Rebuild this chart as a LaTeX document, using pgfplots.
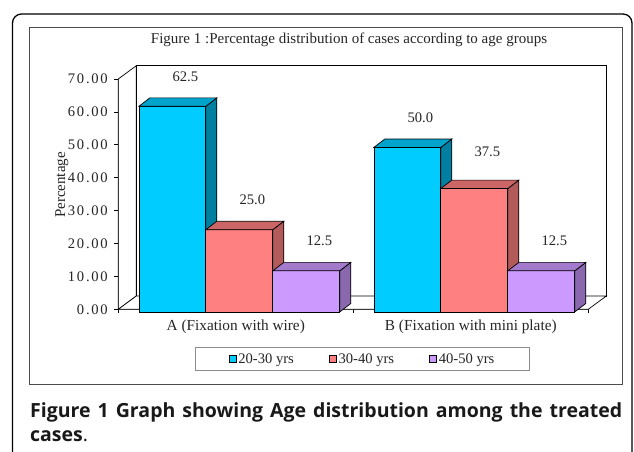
\documentclass[border=0pt]{standalone}
\usepackage{fontspec}
\setmainfont{Liberation Serif}
\newfontfamily\capfont{Open Sans}
\newfontfamily\tickfont[LetterSpace=12]{Liberation Serif}
\usepackage{pgfplots}
\pgfplotsset{compat=1.18}
\definecolor{cyanF}{HTML}{00CCFF}
\definecolor{cyanT}{HTML}{00A3CC}
\definecolor{cyanS}{HTML}{007FA0}
\definecolor{redF}{HTML}{FF8080}
\definecolor{redT}{HTML}{CC6666}
\definecolor{redS}{HTML}{B35A5A}
\definecolor{purF}{HTML}{CC99FF}
\definecolor{purT}{HTML}{A37ACC}
\definecolor{purS}{HTML}{8A68AE}
% bar geometry (axis units)
\def\cbw{0.285}  % bar width
\def\csx{0.015}  % front face depth shift x
\def\csy{-0.79}  % front face depth shift y
\def\cdx{0.0468} % bar depth x
\def\cdy{2.55}   % bar depth y
% #1 category, #2 series index, #3 value, #4 colour prefix, #5 label lift (pt)
\newcommand{\cubebar}[5]{%
  \pgfmathsetmacro{\cxl}{#1+#2*\cbw-\cbw/2+\csx}%
  \pgfmathsetmacro{\cxr}{\cxl+\cbw}%
  \pgfmathsetmacro{\cxc}{\cxl+\cbw/2}%
  \pgfmathsetmacro{\cyb}{\csy}%
  \pgfmathsetmacro{\cyt}{#3+\csy}%
  \pgfmathsetmacro{\cxlb}{\cxl+\cdx}%
  \pgfmathsetmacro{\cxrb}{\cxr+\cdx}%
  \pgfmathsetmacro{\cybb}{\cyb+\cdy}%
  \pgfmathsetmacro{\cytb}{\cyt+\cdy}%
  \addplot[fill=#4F, draw=black, line width=0.7pt, forget plot] coordinates {(\cxl,\cyb) (\cxr,\cyb) (\cxr,\cyt) (\cxl,\cyt)} -- cycle;
  \addplot[fill=#4S, draw=black, line width=0.7pt, forget plot] coordinates {(\cxr,\cyb) (\cxrb,\cybb) (\cxrb,\cytb) (\cxr,\cyt)} -- cycle;
  \addplot[fill=#4T, draw=black, line width=0.7pt, forget plot] coordinates {(\cxl,\cyt) (\cxr,\cyt) (\cxrb,\cytb) (\cxlb,\cytb)} -- cycle;
  \addplot[draw=none, mark=none, forget plot, point meta=explicit,
    nodes near coords={\pgfmathprintnumber[assume math mode=true,fixed,fixed zerofill,precision=1]{\pgfplotspointmeta}},
    nodes near coords style={anchor=center, xshift=13pt, yshift=#5pt, font=\fontsize{14.6}{17}\selectfont, text=black!85}]
    coordinates {(\cxc,\cyt) [#3]};
}
\begin{document}
\begin{tikzpicture}
\begin{scope}[x=1pt,y=1pt,shift={(-118.3pt,-142.7pt)}]
\useasboundingbox (0,0) rectangle (634,452);
\clip (0,0) rectangle (634,452);
\fill[white] (0,0) rectangle (634,452);
\draw[black, line width=1.3pt, rounded corners=9pt] (12.5,-10) -- (12.5,438) -- (632,438) -- (632,-10);
\draw[black!70, line width=0.8pt] (29.5,67.5) rectangle (622.5,425);
\node[font=\fontsize{15}{17}\selectfont, text=black!85] at (349,412) {Figure 1 :Percentage distribution of cases according to age groups};
\node[anchor=north west, text width=592pt, align=justify, inner sep=0pt, font=\capfont\fontsize{19.5}{24}\selectfont, text=black!90] at (30,50) {\textbf{Figure 1 Graph showing Age distribution among the treated\linebreak cases}.};
\end{scope}
\begin{axis}[
  scale only axis, width=470pt, height=230.3pt,
  xmin=-0.5, xmax=1.5, ymin=0, ymax=70,
  clip=false,
  axis x line*=bottom, axis y line*=left,
  axis line style={-},
  x axis line style={draw=black!55, line width=1.2pt},
  y axis line style={draw=black, line width=0.8pt},
  ytick={0,10,...,70},
  yticklabel style={/pgf/number format/fixed, /pgf/number format/fixed zerofill, /pgf/number format/precision=2, /pgf/number format/assume math mode=true, font=\tickfont\fontsize{14.6}{17}\selectfont, text=black!85, xshift=-3pt},
  xtick={-0.5,0.5,1.5},
  xticklabels={A (Fixation with wire), B (Fixation with mini plate)},
  x tick label as interval,
  xticklabel style={font=\fontsize{15.3}{17}\selectfont, text=black!85, yshift=-3pt},
  tick align=outside, major tick length=4pt,
  tick style={black, line width=0.7pt},
  ylabel={Percentage},
  every axis y label/.style={at={(axis description cs:-0.12,0.54)}, rotate=90, anchor=center, font=\fontsize{15}{17}\selectfont, text=black!85},
  legend image code/.code={\draw[#1, line width=0.7pt] (0pt,-3.5pt) rectangle (7pt,3.5pt);},
  legend columns=3,
  legend style={at={(axis description cs:0.5196,-0.2158)}, anchor=center, draw=black!45, line width=0.8pt,
    font=\fontsize{14.6}{17}\selectfont, text=black!85,
    inner xsep=33pt, inner ysep=3.5pt,
    /tikz/every even column/.append style={column sep=33pt}},
]
% walls
\addplot[fill=white, draw=black, line width=0.7pt, forget plot] coordinates {(-0.5,0) (-0.4234,4.04) (-0.4234,74.04) (-0.5,70)} -- cycle;
\addplot[fill=white, draw=black, line width=0.7pt, forget plot] coordinates {(-0.4234,4.04) (1.5766,4.04) (1.5766,74.04) (-0.4234,74.04)} -- cycle;
\addplot[fill=white, draw=black, line width=0.7pt, forget plot] coordinates {(-0.5,0) (1.5,0) (1.5766,4.04) (-0.4234,4.04)} -- cycle;
% bars: category, series, value
\cubebar{0}{-1}{62.5}{cyan}{30}
\cubebar{0}{0}{25.0}{red}{30}
\cubebar{0}{1}{12.5}{pur}{30}
\cubebar{1}{-1}{50.0}{cyan}{30}
\cubebar{1}{0}{37.5}{red}{37}
\cubebar{1}{1}{12.5}{pur}{30}
\addlegendimage{fill=cyanF, draw=black}
\addlegendentry{20-30 yrs}
\addlegendimage{fill=redF, draw=black}
\addlegendentry{30-40 yrs}
\addlegendimage{fill=purF, draw=black}
\addlegendentry{40-50 yrs}
\end{axis}
\end{tikzpicture}
\end{document}
